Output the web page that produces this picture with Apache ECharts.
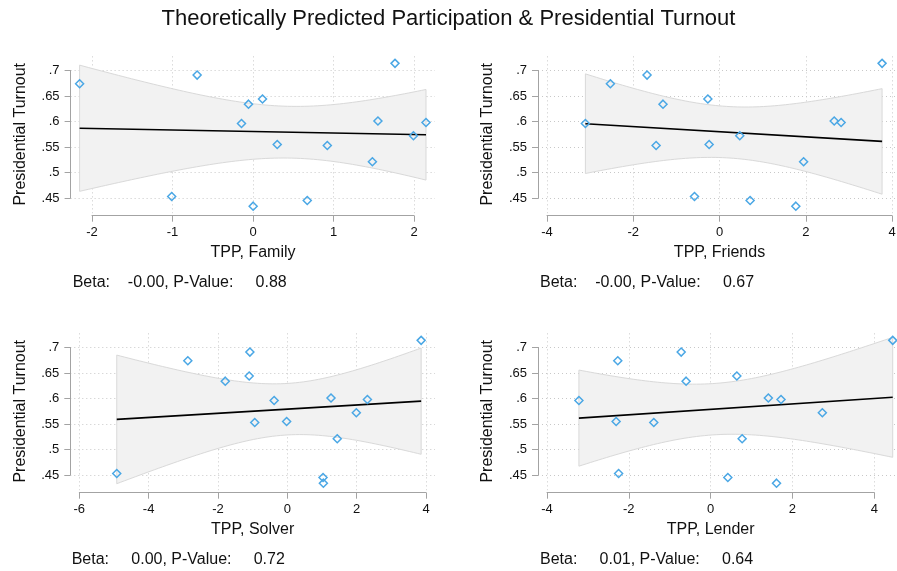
<!DOCTYPE html>
<html><head><meta charset="utf-8">
<script src="https://cdn.jsdelivr.net/npm/echarts@6/dist/echarts.min.js"></script>
<style>html,body{margin:0;padding:0;background:#fff}#c{width:897px;height:571px}</style>
</head><body><div id="c"></div>
<script>
// ---------------- data ----------------
const chartTitle = 'Theoretically Predicted Participation & Presidential Turnout';
const yAxisTitle = 'Presidential Turnout';
const panelNames = ['TPP, Family', 'TPP, Friends', 'TPP, Solver', 'TPP, Lender'];

const turnout    = [0.674, 0.453, 0.691, 0.596, 0.634, 0.434, 0.644, 0.555, 0.445, 0.553, 0.521, 0.601, 0.714, 0.572, 0.598];
const tppFamily  = [-2.154, -1.01, -0.694, -0.143, -0.056, 0.002, 0.118, 0.301, 0.674, 0.923, 1.483, 1.552, 1.764, 1.993, 2.149];
const tppFriends = [-2.53, -0.58, -1.68, -3.11, -1.31, 1.77, -0.27, -0.24, 0.71, -1.47, 1.95, 2.66, 3.77, 0.47, 2.82];
const tppSolver  = [-2.87, -4.92, -1.08, -0.38, -1.79, 1.04, -1.10, -0.02, 1.03, -0.94, 1.44, 1.26, 3.86, 1.99, 2.31];
const tppLender  = [-2.27, -2.25, -0.72, -3.22, -0.60, 1.61, 0.64, -2.31, 0.42, -1.39, 0.77, 1.41, 4.45, 2.73, 1.72];

const betaLabels   = ['-0.00', '-0.00', '0.00', '0.01'];
const pValueLabels = ['0.88', '0.67', '0.72', '0.64'];

const yTickValues = [0.45, 0.5, 0.55, 0.6, 0.65, 0.7];
const yTickLabels = ['.45', '.5', '.55', '.6', '.65', '.7'];
const xTickRanges = [[-2, 2, 1], [-4, 4, 2], [-6, 4, 2], [-4, 4, 2]]; // min, max, step
const T_CRIT = 2.160; // t(0.975, df = 13)

// ---------------- layout ----------------
const FONT = "'Liberation Sans', Arial, Helvetica, sans-serif";
const layout = [
  { x0: 92,   x1: 414,   yTop: 70.5,  yBot: 198, xAxisY: 215.7, note: [72.7, 283] },
  { x0: 547,  x1: 892,   yTop: 70.5,  yBot: 198, xAxisY: 215.7, note: [540, 283] },
  { x0: 79.3, x1: 426,   yTop: 347.5, yBot: 475, xAxisY: 492.7, note: [71.7, 560] },
  { x0: 547,  x1: 874.3, yTop: 347.5, yBot: 475, xAxisY: 492.7, note: [540, 560] }
];
const MX = 9, MY = 7;
const AXIS_COLOR = '#a3a3a3', GRID_COLOR = '#c8c8c8', MARK_COLOR = '#4aa7e5';
const panelX = [tppFamily, tppFriends, tppSolver, tppLender];

function lfitci(xs, ys) {
  const n = xs.length;
  const xbar = xs.reduce((a, b) => a + b, 0) / n;
  const ybar = ys.reduce((a, b) => a + b, 0) / n;
  let sxx = 0, sxy = 0;
  for (let i = 0; i < n; i++) { sxx += (xs[i] - xbar) ** 2; sxy += (xs[i] - xbar) * (ys[i] - ybar); }
  const b = sxy / sxx, a = ybar - b * xbar;
  let sse = 0;
  for (let i = 0; i < n; i++) sse += (ys[i] - a - b * xs[i]) ** 2;
  const s = Math.sqrt(sse / (n - 2));
  const lo = Math.min(...xs), hi = Math.max(...xs);
  const upper = [], lower = [];
  const N = 80;
  for (let k = 0; k <= N; k++) {
    const x = lo + (hi - lo) * k / N;
    const yh = a + b * x;
    const se = s * Math.sqrt(1 / n + (x - xbar) ** 2 / sxx);
    upper.push([x, yh + T_CRIT * se]);
    lower.push([x, yh - T_CRIT * se]);
  }
  return { line: [[lo, a + b * lo], [hi, a + b * hi]], upper, lower };
}

const grids = [], xAxes = [], yAxes = [], series = [], graphics = [];
const yMin = yTickValues[0], yMax = yTickValues[yTickValues.length - 1];

panelX.forEach((xs, i) => {
  const L = layout[i];
  const [xmin, xmax, xstep] = xTickRanges[i];
  const kx = (L.x1 - L.x0) / (xmax - xmin);
  const ky = (L.yBot - L.yTop) / (yMax - yMin);
  const dxlo = Math.min(xmin, ...xs), dxhi = Math.max(xmax, ...xs);
  const dylo = Math.min(yMin, ...turnout), dyhi = Math.max(yMax, ...turnout);
  const pl = L.x0 + (dxlo - xmin) * kx - MX;
  const pr = L.x0 + (dxhi - xmin) * kx + MX;
  const pt = L.yTop - (dyhi - yMax) * ky - MY;
  const pb = L.yBot + (yMin - dylo) * ky + MY;

  grids.push({ left: L.x0, top: L.yTop, width: L.x1 - L.x0, height: L.yBot - L.yTop, containLabel: false, outerBoundsMode: 'none' });
  grids.push({ left: pl, top: pt, width: pr - pl, height: pb - pt, containLabel: false, outerBoundsMode: 'none' });

  const ga = 2 * i, gp = 2 * i + 1;
  xAxes.push({
    gridIndex: ga, type: 'value', min: xmin, max: xmax, interval: xstep, position: 'bottom',
    offset: L.xAxisY - L.yBot,
    axisLine: { show: true, onZero: false, lineStyle: { color: AXIS_COLOR, width: 1 } },
    axisTick: { show: true, length: 6, lineStyle: { color: AXIS_COLOR, width: 1 } },
    axisLabel: { show: true, margin: 10, color: '#111', fontSize: 13, fontFamily: FONT, showMinLabel: true, showMaxLabel: true },
    splitLine: { show: false },
    name: panelNames[i], nameLocation: 'middle', nameGap: 29,
    nameTextStyle: { fontSize: 16, color: '#111', fontFamily: FONT }
  });
  yAxes.push({
    gridIndex: ga, type: 'value', min: yMin, max: yMax, interval: 0.05, position: 'left',
    offset: L.x0 - pl,
    axisLine: { show: true, onZero: false, lineStyle: { color: AXIS_COLOR, width: 1 } },
    axisTick: { show: true, length: 6, lineStyle: { color: AXIS_COLOR, width: 1 } },
    axisLabel: {
      show: true, margin: 11, color: '#111', fontSize: 13, fontFamily: FONT,
      formatter: v => { const j = yTickValues.findIndex(t => Math.abs(t - v) < 1e-6); return j >= 0 ? yTickLabels[j] : ''; }
    },
    splitLine: { show: false },
    name: yAxisTitle, nameLocation: 'middle', nameGap: 42,
    nameTextStyle: { fontSize: 16, color: '#111', fontFamily: FONT }
  });
  xAxes.push({
    gridIndex: gp, type: 'value',
    min: xmin + (pl - L.x0) / kx, max: xmin + (pr - L.x0) / kx,
    minInterval: xstep, maxInterval: xstep,
    axisLine: { show: false, onZero: false }, axisTick: { show: false }, axisLabel: { show: false },
    splitLine: { show: true, showMinLine: false, showMaxLine: false, lineStyle: { color: GRID_COLOR, type: [1, 3], width: 1 } }
  });
  yAxes.push({
    gridIndex: gp, type: 'value',
    min: yMin - (pb - L.yBot) / ky, max: yMax + (L.yTop - pt) / ky,
    minInterval: 0.05, maxInterval: 0.05,
    axisLine: { show: false, onZero: false }, axisTick: { show: false }, axisLabel: { show: false },
    splitLine: { show: true, showMinLine: false, showMaxLine: false, lineStyle: { color: GRID_COLOR, type: [1, 3], width: 1 } }
  });

  const f = lfitci(xs, turnout);
  series.push({
    type: 'custom', xAxisIndex: gp, yAxisIndex: gp, data: [[f.line[0][0], f.line[0][1]]],
    silent: true, z: 1,
    renderItem: (params, api) => {
      const pts = f.upper.map(p => api.coord(p)).concat(f.lower.slice().reverse().map(p => api.coord(p)));
      return { type: 'polygon', shape: { points: pts }, style: { fill: '#f2f2f2', stroke: '#d9d9d9', lineWidth: 1 } };
    }
  });
  series.push({
    type: 'line', xAxisIndex: gp, yAxisIndex: gp, data: f.line,
    showSymbol: false, symbol: 'none', silent: true, z: 2,
    lineStyle: { color: '#000', width: 1.6 }
  });
  series.push({
    type: 'scatter', xAxisIndex: gp, yAxisIndex: gp,
    data: xs.map((x, j) => [x, turnout[j]]),
    symbol: 'diamond', symbolSize: 8, z: 3, clip: false,
    itemStyle: { color: 'rgba(255,255,255,0)', borderColor: MARK_COLOR, borderWidth: 1.5, opacity: 1 }
  });

  const b = betaLabels[i], p = pValueLabels[i];
  graphics.push({
    type: 'text', x: L.note[0], y: L.note[1],
    style: {
      text: 'Beta:' + ' '.repeat(9 - b.length) + b + ', P-Value:' + ' '.repeat(9 - p.length) + p,
      font: '16px ' + FONT, fill: '#111', verticalAlign: 'middle', align: 'left'
    }
  });
});

const chart = echarts.init(document.getElementById('c'), null, { renderer: 'canvas', width: 897, height: 571 });
chart.setOption({
  backgroundColor: '#fff',
  animation: false,
  title: {
    text: chartTitle, left: 'center', top: 8, padding: 0,
    textStyle: { fontSize: 22, fontWeight: 'normal', color: '#111', fontFamily: FONT }
  },
  grid: grids, xAxis: xAxes, yAxis: yAxes, series: series, graphic: graphics
});
</script>
</body></html>
